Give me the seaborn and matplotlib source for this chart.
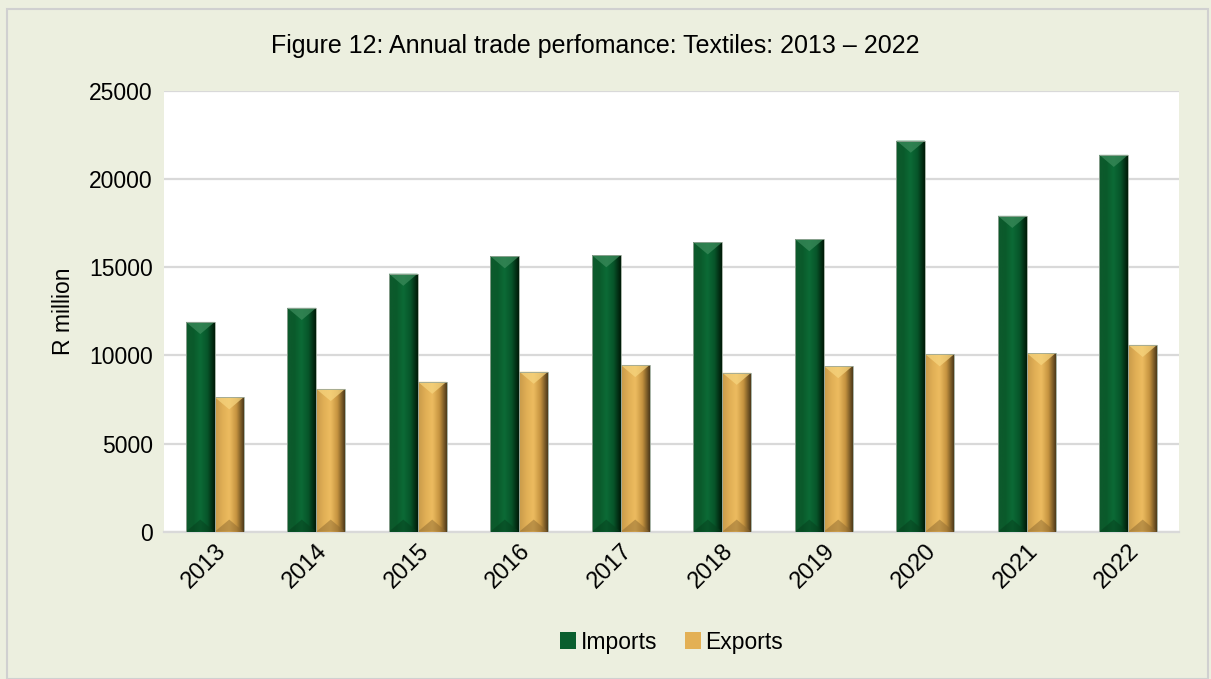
import numpy as np
import pandas as pd
import matplotlib
matplotlib.use("Agg")
import matplotlib.pyplot as plt
from matplotlib.colors import LinearSegmentedColormap
from matplotlib.patches import Polygon, Rectangle
import seaborn as sns

years = ["2013", "2014", "2015", "2016", "2017", "2018", "2019", "2020", "2021", "2022"]
imports = [11900, 12700, 14640, 15630, 15690, 16420, 16600, 22190, 17920, 21380]
exports = [7630, 8100, 8510, 9080, 9460, 9020, 9400, 10070, 10130, 10600]
series_names = ["Imports", "Exports"]
y_ticks = [0, 5000, 10000, 15000, 20000, 25000]

df = pd.DataFrame({
    "Year": years * 2,
    "Value": imports + exports,
    "Series": [series_names[0]] * len(years) + [series_names[1]] * len(years),
})

BG = "#ECEFDF"
GRID = "#D9D9D9"
palette = {"Imports": "#0A5E2E", "Exports": "#E3B055"}

sns.set_theme(style="white")
plt.rcParams["font.family"] = ["Liberation Sans", "DejaVu Sans"]
plt.rcParams["text.color"] = "#000000"
plt.rcParams["axes.labelcolor"] = "#000000"
plt.rcParams["xtick.color"] = "#000000"
plt.rcParams["ytick.color"] = "#000000"

W, H, DPI = 1211, 679, 100
fig = plt.figure(figsize=(W / DPI, H / DPI), dpi=DPI, facecolor=BG)
left, right, bottom, top = 164, 1179, 531.7, 91
ax = fig.add_axes([left / W, 1 - bottom / H, (right - left) / W, (bottom - top) / H])
ax.set_facecolor("white")

sns.barplot(data=df, x="Year", y="Value", hue="Series", palette=palette,
            width=0.57, saturation=1, ax=ax, zorder=3, edgecolor="none")

ax.set_ylim(0, 25000)
ax.set_xlim(-0.5, len(years) - 0.5)
ax.set_yticks(y_ticks)
ax.set_yticklabels([str(t) for t in y_ticks], fontsize=16.5, color="#000000")
ax.tick_params(axis="x", labelsize=17, labelcolor="#000000", length=0, pad=6)
ax.tick_params(axis="y", length=0, pad=8)
for lbl in ax.get_xticklabels():
    lbl.set_rotation(45)
    lbl.set_ha("right")
    lbl.set_rotation_mode("anchor")
ax.set_xlabel("")
ax.set_ylabel("R million", fontsize=16.5, color="#000000", labelpad=10)
ax.yaxis.grid(True, color=GRID, linewidth=1.6, zorder=0)
ax.set_axisbelow(True)
for side in ["top", "right", "left"]:
    ax.spines[side].set_visible(False)
ax.spines["bottom"].set_color(GRID)
ax.spines["bottom"].set_linewidth(1.6)

# Bevelled shading on each bar, derived from the bar's own geometry
shade = {
    "Imports": (LinearSegmentedColormap.from_list(
        "g", ["#0E5A2D", "#0A5A2B", "#0C6B36", "#07552A", "#001A08"]),
        "#3A8A5A", "#06401D"),
    "Exports": (LinearSegmentedColormap.from_list(
        "o", ["#C89A4A", "#E0AE55", "#EDBC60", "#C4923F", "#4E3A1A"]),
        "#F6D47E", "#8E6A30"),
}
px_x = (right - left) / len(years)
px_y = (bottom - top) / 25000
grad = np.linspace(0, 1, 64).reshape(1, -1)
bars = [p for p in ax.patches if isinstance(p, Rectangle) and p.get_height() > 0]
n = len(years)
for i, p in enumerate(bars[: 2 * n]):
    name = series_names[i // n]
    cmap, light, dark = shade[name]
    x0, y0 = p.get_x(), p.get_y()
    w, h = p.get_width(), p.get_height()
    im = ax.imshow(grad, extent=[x0, x0 + w, y0, y0 + h], aspect="auto",
                   cmap=cmap, zorder=3.5, interpolation="bicubic")
    im.set_clip_path(p)
    d = (w * px_x * 0.42) / px_y
    ax.add_patch(Polygon([[x0, y0 + h], [x0 + w, y0 + h], [x0 + w / 2, y0 + h - d]],
                         closed=True, facecolor=light, edgecolor="none",
                         alpha=0.75, zorder=4))
    ax.add_patch(Polygon([[x0, y0], [x0 + w, y0], [x0 + w / 2, y0 + d]],
                         closed=True, facecolor=dark, edgecolor="none",
                         alpha=0.5, zorder=4))
    ax.add_patch(Rectangle((x0, y0), w, h, facecolor="none",
                           edgecolor="#9AA89A", linewidth=0.6, zorder=4.5))

ax.set_xlim(-0.5, len(years) - 0.5)
ax.set_ylim(0, 25000)

sns.move_legend(ax, "center", bbox_to_anchor=(0.5, (H - 642) / (bottom - top) - (H - bottom) / (bottom - top)),
                ncol=2, frameon=False, title=None, fontsize=16.5,
                handlelength=0.7, handleheight=0.7, handletextpad=0.2,
                columnspacing=1.2, labelcolor="#000000")

fig.text(595.5 / W, 1 - 46 / H, "Figure 12: Annual trade perfomance: Textiles: 2013 \u2013 2022",
         ha="center", va="center", fontsize=18, color="#000000")

fig.patches.append(Rectangle((7 / W, 0), (1208 - 7) / W, 1 - 9 / H,
                             transform=fig.transFigure, facecolor="none",
                             edgecolor="#D0D0D0", linewidth=1.5))

fig.savefig("out.png", dpi=DPI, facecolor=BG)
